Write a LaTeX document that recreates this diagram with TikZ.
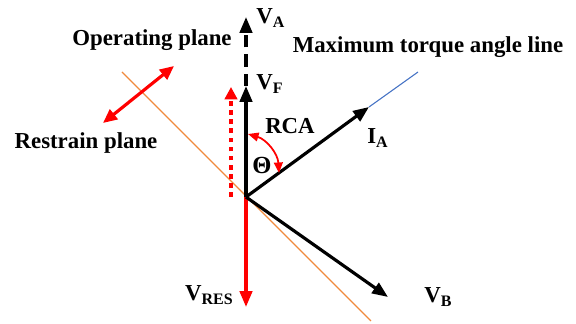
\documentclass[tikz,border=0pt]{standalone}
\usepackage{fontspec}
\setmainfont{Liberation Serif}
\usepackage{xcolor}
\definecolor{rred}{HTML}{FF0000}
\definecolor{rorange}{HTML}{F08A3C}
\definecolor{rblue}{HTML}{4472C4}
\usepackage{tikz}
\usetikzlibrary{arrows.meta,positioning}
\newcommand{\vsub}[2]{#1\textsubscript{#2}}

\begin{document}
\begin{tikzpicture}[x=0.02cm,y=-0.02cm,
  lbl/.style={inner sep=0pt,font=\fontsize{13}{15}\selectfont\bfseries},
  phasor/.style={-{Triangle[length=9pt,width=7pt]},line width=1.8pt,black},
  redvec/.style={-{Triangle[length=9pt,width=7pt]},line width=1.8pt,rred}]
\useasboundingbox (0,0) rectangle (576,324);
% reference point and vector tips
\coordinate (o) at (246,197);
\coordinate (vf) at (246,86);
\coordinate (va) at (246,17);
\coordinate (dotbase) at (231,197);
\coordinate (dottip) at (231,87);
\coordinate (vres) at (246,307);
\coordinate (vb) at (388,297);
\coordinate (ia) at (369,107);
\coordinate (mta) at (418,72);
\coordinate (zpa) at (122,72);
\coordinate (zpb) at (371,321);
\coordinate (pla) at (103,123);
\coordinate (plb) at (174,66);
\coordinate (arca) at (248,134);
\coordinate (arcb) at (279,173);
% zero torque line and max torque angle line
\draw[rorange,line width=0.7pt] (zpa) -- (zpb);
\draw[rblue,line width=0.6pt] (ia) -- (mta);
% vectors
\draw[phasor,dashed,dash pattern=on 7pt off 4pt] (vf) -- (va);
\draw[phasor] (o) -- (vf);
\draw[-{Triangle[length=7pt,width=7pt]},line width=2pt,rred,
  dash pattern=on 2.6pt off 2.6pt] (dotbase) -- (dottip);
\draw[redvec] (o) -- (vres);
\draw[phasor] (o) -- (vb);
\draw[phasor] (o) -- (ia);
\draw[{Triangle[length=8pt,width=7pt]}-{Triangle[length=8pt,width=7pt]},
  line width=1.8pt,rred] (pla) -- (plb);
\draw[{Triangle[length=6pt,width=5pt]}-{Triangle[length=6pt,width=5pt]},
  line width=1pt,rred] (arca) to[bend left=35] (arcb);
% labels
\node[lbl,anchor=west] (lva) at (256,18) {\vsub{V}{A}};
\node[lbl,anchor=west] (lvf) at (256,84) {\vsub{V}{F}};
\node[lbl] (lop) at (152,40) {Operating plane};
\node[lbl] (lre) at (86,143) {Restrain plane};
\node[lbl] (lmt) at (428,47) {Maximum torque angle line};
\node[lbl] (lrca) at (290,126) {RCA};
\node[lbl,font=\fontsize{14}{15}\selectfont\bfseries] (lth) at (262,165) {Θ};
\node[lbl,anchor=west] (lia) at (367,138) {\vsub{I}{A}};
\node[lbl,anchor=west] (lvb) at (424,297) {\vsub{V}{B}};
\node[lbl,anchor=east] (lvres) at (234,295) {\vsub{V}{RES}};
\end{tikzpicture}
\end{document}
